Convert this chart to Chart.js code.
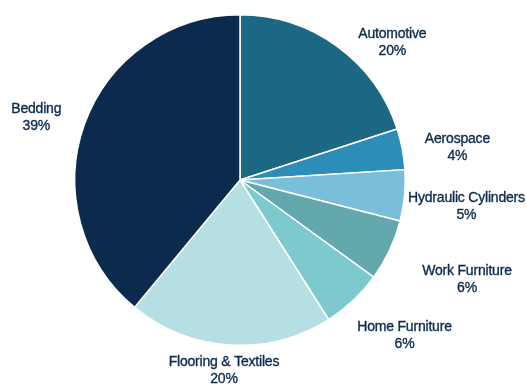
<!DOCTYPE html>
<html>
<head>
<meta charset="utf-8">
<script src="https://cdn.jsdelivr.net/npm/chart.js@4"></script>
<style>
  html, body { margin: 0; padding: 0; background: #ffffff; }
  #wrap { width: 526px; height: 385px; position: relative; }
</style>
</head>
<body>
<div id="wrap"><canvas id="chart" width="526" height="385"></canvas></div>
<script>
// Revenue share by end market
const categories = ['Automotive', 'Aerospace', 'Hydraulic Cylinders', 'Work Furniture', 'Home Furniture', 'Flooring & Textiles', 'Bedding'];
const shares = [20, 4, 5, 6, 6, 20, 39];
const sliceColors = ['#1b6784', '#2b8db8', '#7abfda', '#62a8ac', '#7ccace', '#b6dfe3', '#0b2a4d'];

// Label placement relative to each slice: [angle shift in degrees, distance as a multiple of the radius]
const labelPlacement = [[12, 1.24], [2.4, 1.33], [1.4, 1.38], [-1.5, 1.50], [-3.4, 1.37], [1.2, 1.16], [-2.7, 1.29]];

const outsideLabels = {
  id: 'outsideLabels',
  afterDatasetsDraw(chart) {
    const ctx = chart.ctx;
    const meta = chart.getDatasetMeta(0);
    ctx.save();
    ctx.font = '14px "Liberation Sans", Arial, sans-serif';
    ctx.fillStyle = '#0b2a4d';
    ctx.strokeStyle = '#0b2a4d';
    ctx.lineWidth = 0.35;
    ctx.textAlign = 'center';
    ctx.textBaseline = 'middle';
    if ('letterSpacing' in ctx) ctx.letterSpacing = '-0.2px';
    meta.data.forEach((arc, i) => {
      const p = arc.getProps(['x', 'y', 'startAngle', 'endAngle', 'outerRadius'], true);
      const mid = (p.startAngle + p.endAngle) / 2 + labelPlacement[i][0] * Math.PI / 180;
      const r = p.outerRadius * labelPlacement[i][1];
      const cx = p.x + Math.cos(mid) * r;
      const cy = p.y + Math.sin(mid) * r;
      [[categories[i], cy - 8.5], [shares[i] + '%', cy + 8.5]].forEach(([t, y]) => {
        ctx.fillText(t, cx, y);
        ctx.strokeText(t, cx, y);
      });
    });
    ctx.restore();
  }
};

new Chart(document.getElementById('chart'), {
  type: 'pie',
  data: {
    labels: categories,
    datasets: [{
      data: shares,
      backgroundColor: sliceColors,
      borderColor: '#ffffff',
      borderWidth: 1.5
    }]
  },
  options: {
    responsive: false,
    animation: false,
    layout: { padding: { left: 74, right: 120, top: 14, bottom: 39 } },
    plugins: {
      legend: { display: false },
      tooltip: { enabled: false }
    }
  },
  plugins: [outsideLabels]
});
</script>
</body>
</html>
